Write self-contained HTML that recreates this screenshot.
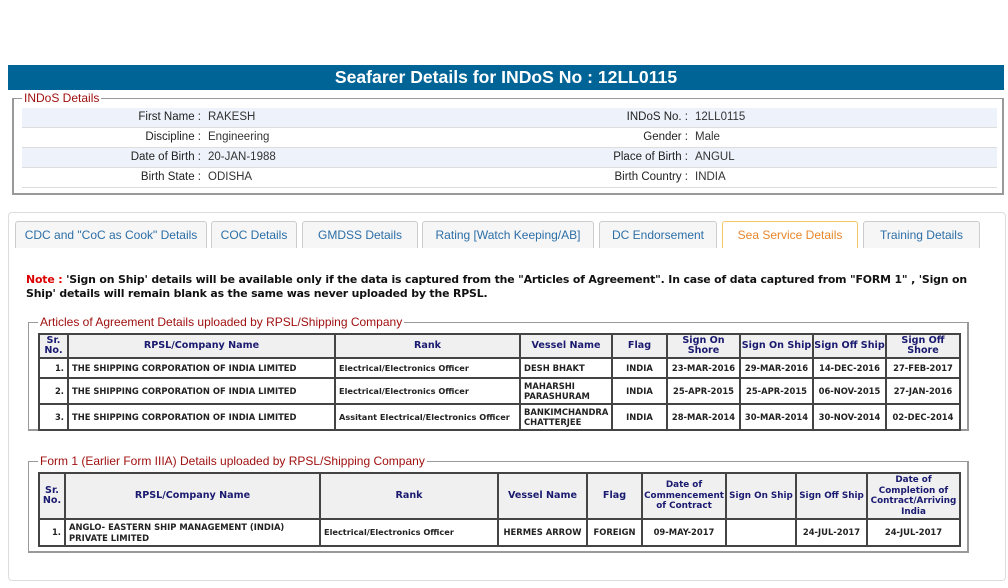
<!DOCTYPE html>
<html><head><meta charset="utf-8"><style>
*{margin:0;padding:0;box-sizing:border-box}
body{width:1008px;height:588px;background:#fff;position:relative;overflow:hidden;font-family:"Liberation Sans",Arial,sans-serif}
.a{position:absolute}
.title{left:8px;top:65px;width:996px;height:25px;background:#006496;color:#fff;font-weight:bold;font-size:17.6px;text-align:center;line-height:25px;font-family:"Liberation Sans",sans-serif}
.fs{border:2px solid #999;border-top-width:1px}
.lg{background:#fff;color:#a01010;font-size:12px;padding:0 2px;line-height:14px}
.row{left:22px;width:975px;height:20px;border-bottom:1px solid #ddd;font-size:11.5px;color:#333;line-height:19px}
.row.b{background:#eef3fb}
.lb{position:absolute;text-align:right;color:#222}
.vl{position:absolute}
.panel{left:8px;top:212px;width:998px;height:369px;border:1px solid #ddd;border-radius:4px}
.tab{top:221px;height:27px;background:#f6f6f6;border:1px solid #ccc;border-bottom:none;border-radius:3px 3px 0 0;color:#2c6ea6;font-size:12px;text-align:center;line-height:27px}
.tab.act{background:#fff;border-color:#f2c76a;color:#e8862c}
.note{left:26px;top:273px;width:950px;font-family:"DejaVu Sans",sans-serif;font-weight:bold;font-size:10.9px;letter-spacing:-0.15px;line-height:13.5px;color:#111}
table{position:absolute;border-collapse:collapse;table-layout:fixed;font-family:"DejaVu Sans",sans-serif;font-size:8.4px;font-weight:bold;color:#222}
td,th{border:2px solid #444;padding:0 3px;overflow:hidden;white-space:nowrap}
th{background:#f0f0f0;color:#1a1a70;font-size:9.6px;text-align:center;line-height:10.5px;padding:0}
td.c{text-align:center;padding:0}
td.r{text-align:right}
td{line-height:10.5px}
td.n{font-size:8.2px}
</style></head><body>
<div class="a title">Seafarer Details for INDoS No : 12LL0115</div>

<div class="a fs" style="left:12px;top:98px;width:992px;height:97px"></div>
<div class="a lg" style="left:22px;top:91px">INDoS Details</div>
<div class="a row b" style="top:108px"><span class="lb" style="right:796px">First Name :</span><span class="vl" style="left:186px">RAKESH</span><span class="lb" style="right:309px">INDoS No. :</span><span class="vl" style="left:673px">12LL0115</span></div>
<div class="a row" style="top:128px"><span class="lb" style="right:796px">Discipline :</span><span class="vl" style="left:186px">Engineering</span><span class="lb" style="right:309px">Gender :</span><span class="vl" style="left:673px">Male</span></div>
<div class="a row b" style="top:148px"><span class="lb" style="right:796px">Date of Birth :</span><span class="vl" style="left:186px">20-JAN-1988</span><span class="lb" style="right:309px">Place of Birth :</span><span class="vl" style="left:673px">ANGUL</span></div>
<div class="a row" style="top:168px"><span class="lb" style="right:796px">Birth State :</span><span class="vl" style="left:186px">ODISHA</span><span class="lb" style="right:309px">Birth Country :</span><span class="vl" style="left:673px">INDIA</span></div>

<div class="a panel"></div>
<div class="a tab" style="left:15px;width:192px">CDC and "CoC as Cook" Details</div>
<div class="a tab" style="left:211px;width:86px">COC Details</div>
<div class="a tab" style="left:302px;width:116px">GMDSS Details</div>
<div class="a tab" style="left:422px;width:172px">Rating [Watch Keeping/AB]</div>
<div class="a tab" style="left:599px;width:118px">DC Endorsement</div>
<div class="a tab act" style="left:722px;width:136px">Sea Service Details</div>
<div class="a tab" style="left:863px;width:117px">Training Details</div>

<div class="a note"><span style="color:#d00">Note :</span> 'Sign on Ship' details will be available only if the data is captured from the "Articles of Agreement". In case of data captured from "FORM 1" , 'Sign on<br>Ship' details will remain blank as the same was never uploaded by the RPSL.</div>

<div class="a fs" style="left:28px;top:322px;width:941px;height:109px;border-width:1px 2px 2px 1px"></div>
<div class="a lg" style="left:38px;top:315px">Articles of Agreement Details uploaded by RPSL/Shipping Company</div>
<table style="left:38px;top:333px;width:921px">
<colgroup><col style="width:29px"><col style="width:267px"><col style="width:185px"><col style="width:92px"><col style="width:55px"><col style="width:73px"><col style="width:73px"><col style="width:73px"><col style="width:74px"></colgroup>
<tr style="height:24px"><th>Sr.<br>No.</th><th>RPSL/Company Name</th><th>Rank</th><th>Vessel Name</th><th>Flag</th><th>Sign On<br>Shore</th><th>Sign On Ship</th><th>Sign Off Ship</th><th>Sign Off<br>Shore</th></tr>
<tr style="height:20px"><td class="r">1.</td><td>THE SHIPPING CORPORATION OF INDIA LIMITED</td><td class="n">Electrical/Electronics Officer</td><td>DESH BHAKT</td><td class="c">INDIA</td><td class="c">23-MAR-2016</td><td class="c">29-MAR-2016</td><td class="c">14-DEC-2016</td><td class="c">27-FEB-2017</td></tr>
<tr style="height:26px"><td class="r">2.</td><td>THE SHIPPING CORPORATION OF INDIA LIMITED</td><td class="n">Electrical/Electronics Officer</td><td>MAHARSHI<br>PARASHURAM</td><td class="c">INDIA</td><td class="c">25-APR-2015</td><td class="c">25-APR-2015</td><td class="c">06-NOV-2015</td><td class="c">27-JAN-2016</td></tr>
<tr style="height:26px"><td class="r">3.</td><td>THE SHIPPING CORPORATION OF INDIA LIMITED</td><td class="n">Assitant Electrical/Electronics Officer</td><td>BANKIMCHANDRA<br>CHATTERJEE</td><td class="c">INDIA</td><td class="c">28-MAR-2014</td><td class="c">30-MAR-2014</td><td class="c">30-NOV-2014</td><td class="c">02-DEC-2014</td></tr>
</table>

<div class="a fs" style="left:28px;top:461px;width:941px;height:92px;border-width:1px 2px 2px 1px"></div>
<div class="a lg" style="left:38px;top:454px">Form 1 (Earlier Form IIIA) Details uploaded by RPSL/Shipping Company</div>
<table style="left:38px;top:472px;width:921px">
<colgroup><col style="width:26px"><col style="width:255px"><col style="width:178px"><col style="width:89px"><col style="width:55px"><col style="width:84px"><col style="width:70px"><col style="width:71px"><col style="width:93px"></colgroup>
<tr style="height:46px"><th>Sr.<br>No.</th><th>RPSL/Company Name</th><th>Rank</th><th>Vessel Name</th><th>Flag</th><th style="font-size:8.8px">Date of<br>Commencement<br>of Contract</th><th style="font-size:8.8px">Sign On Ship</th><th style="font-size:8.8px">Sign Off Ship</th><th style="font-size:8.8px">Date of<br>Completion of<br>Contract/Arriving<br>India</th></tr>
<tr style="height:27px"><td class="r">1.</td><td>ANGLO- EASTERN SHIP MANAGEMENT (INDIA)<br>PRIVATE LIMITED</td><td class="n">Electrical/Electronics Officer</td><td class="c">HERMES ARROW</td><td class="c">FOREIGN</td><td class="c">09-MAY-2017</td><td></td><td class="c">24-JUL-2017</td><td class="c">24-JUL-2017</td></tr>
</table>
</body></html>
